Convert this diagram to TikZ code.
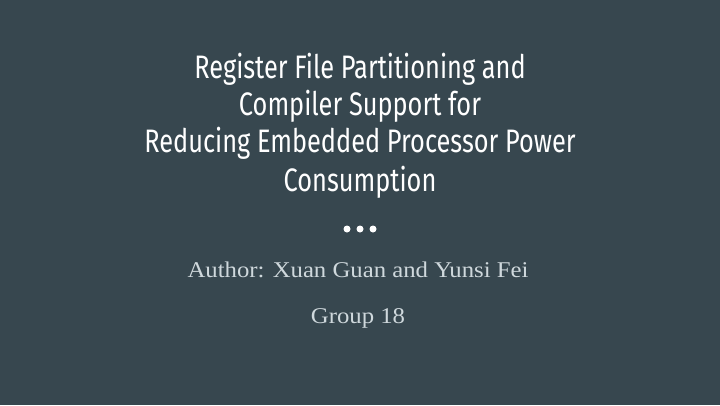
\documentclass[tikz,border=0pt]{standalone}
\usepackage{fontspec}
\usepackage{tikz}
\usetikzlibrary{positioning}
\usepackage{xcolor}
\newfontfamily\titlefont[FakeStretch=0.78]{Fira Sans}
\newfontfamily\subfont[FakeStretch=1.1]{Liberation Serif}
\definecolor{slidebg}{HTML}{37474F}
\definecolor{subgrey}{HTML}{CFD8DC}

\begin{document}
\begin{tikzpicture}[x=1pt,y=-1pt,
  titleline/.style={text=white, anchor=base, inner sep=0pt, font=\titlefont\fontsize{32.5}{38}\selectfont},
  subline/.style={text=subgrey, anchor=base, inner sep=0pt, font=\subfont\fontsize{22.5}{26}\selectfont},
  dot/.style={fill=white, circle, inner sep=0pt, minimum size=7pt}]
% Slide background
\fill[slidebg] (0,0) rectangle (720,405);

% Title, one node per line
\foreach \i/\y/\t in {1/78/{Register File Partitioning and},
                      2/115/{Compiler Support for},
                      3/152/{Reducing Embedded Processor Power},
                      4/191/{Consumption}} {
    \node[titleline] (title\i) at (360,\y) {\t};
}

% Three dots under the title
\foreach \i/\x in {1/347, 2/360, 3/373} {
    \node[dot] (dot\i) at (\x,229) {};
}

% Author and group
\node[subline] (author) at (358,277) {Author: Xuan Guan and Yunsi Fei};
\node[subline] (group) at (358,323) {Group 18};
\end{tikzpicture}
\end{document}
